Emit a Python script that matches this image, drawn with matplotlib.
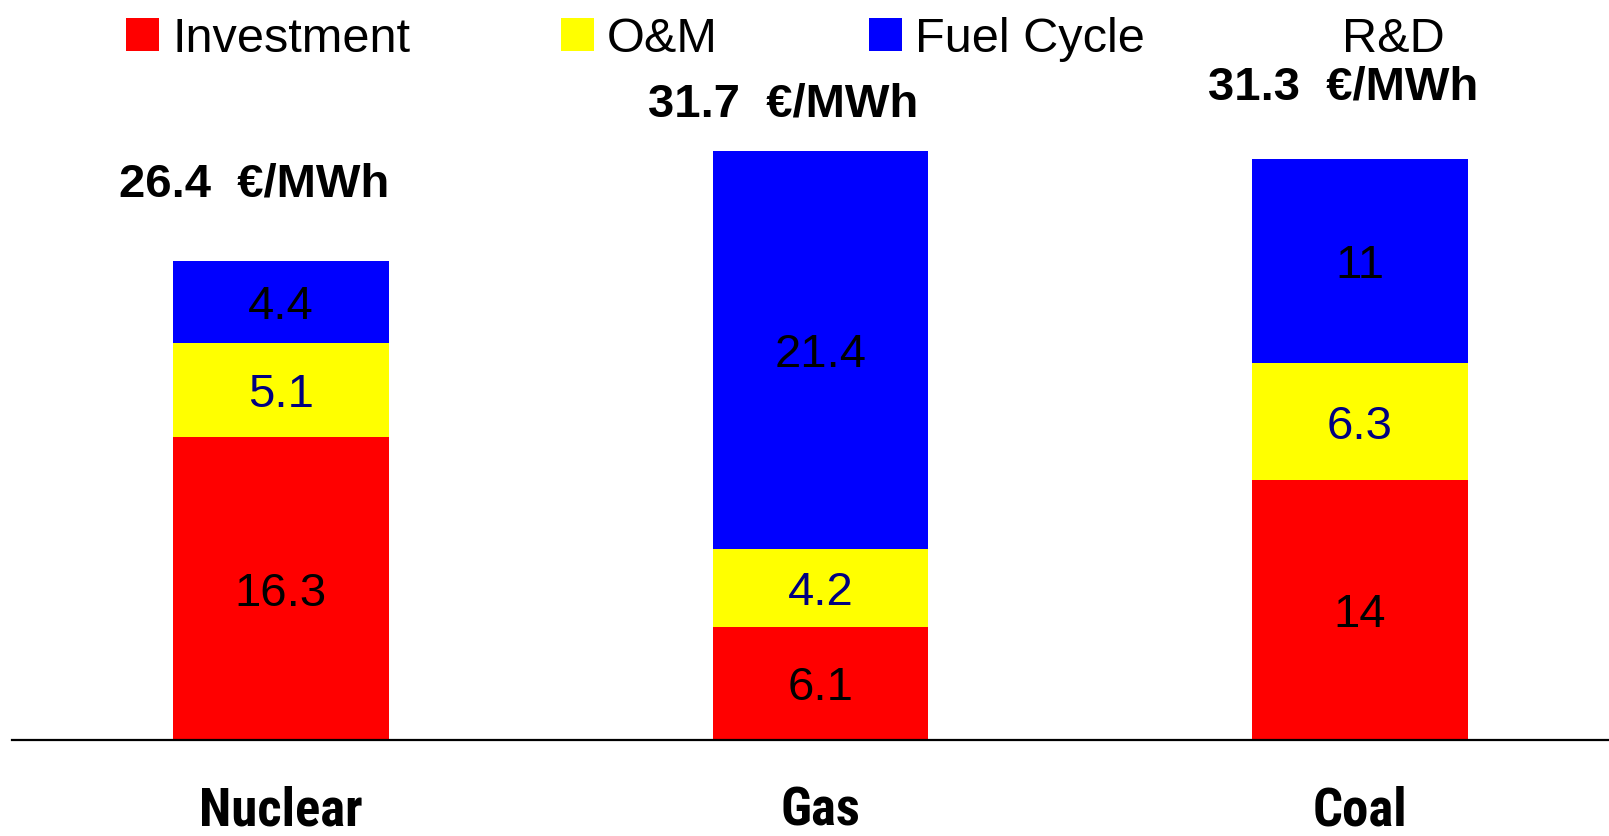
import matplotlib.pyplot as plt
from matplotlib.patches import Patch

# values in EUR/MWh
plants = ["Nuclear", "Gas", "Coal"]
investment = [16.3, 6.1, 14]
om = [5.1, 4.2, 6.3]
fuel_cycle = [4.4, 21.4, 11]
rd = [0.6, 0, 0]

series_names = ["Investment", "O&M", "Fuel Cycle", "R&D"]
series_colors = ["#FF0000", "#FFFF00", "#0000FF", "#FFFFFF"]
label_colors = ["black", "#000080", "black", None]

plt.rcParams['font.family'] = ['Liberation Sans', 'DejaVu Sans']

fig = plt.figure(figsize=(16.09, 8.36), dpi=100)
ax = fig.add_axes([12 / 1609, 96 / 836, 1 - 12 / 1609, 740 / 836])

x = list(range(len(plants)))
bottom = [0.0] * len(plants)
for vals, name, col, lcol in zip([investment, om, fuel_cycle, rd], series_names, series_colors, label_colors):
    ax.bar(x, vals, width=0.4, bottom=bottom, color=col, edgecolor='none')
    if lcol is not None:
        for i, v in enumerate(vals):
            ax.text(i, bottom[i] + v / 2, f"{v:g}", ha='center', va='center_baseline',
                    fontsize=34, color=lcol)
    bottom = [b + v for b, v in zip(bottom, vals)]

# totals above the bars
totals = [a + b + c + d for a, b, c, d in zip(investment, om, fuel_cycle, rd)]
drawn_tops = [a + b + c for a, b, c in zip(investment, om, fuel_cycle)]
total_offsets = [(-19, 55), (-27, 34), (-12, 51)]  # points
for i, (t, top) in enumerate(zip(totals, drawn_tops)):
    ax.annotate(f"{t:.1f}  €/MWh", xy=(i, top), xytext=total_offsets[i],
                textcoords='offset points', ha='center', va='center',
                fontsize=34, fontweight='bold')

ax.set_xlim(-0.4986, 2.4615)
ax.set_ylim(0, 39.85)
for s in ['top', 'left', 'right']:
    ax.spines[s].set_visible(False)
ax.spines['bottom'].set_linewidth(1.6)
ax.set_yticks([])
ax.set_xticks(x)
ax.set_xticklabels(plants, fontsize=38, fontweight='heavy',
                   family=['Roboto Condensed', 'DejaVu Sans'])
ax.tick_params(axis='x', length=0, pad=33)

handles = [Patch(facecolor=c, edgecolor='none') for c in series_colors]
fig.legend(handles, series_names, loc='center left', bbox_to_anchor=(126 / 1609, 1 - 39 / 836),
           ncol=4, frameon=False, fontsize=35, borderpad=0, borderaxespad=0,
           handlelength=0.68, handleheight=0.68, handletextpad=0.27, columnspacing=3.1)

fig.savefig("out.png", dpi=100)
